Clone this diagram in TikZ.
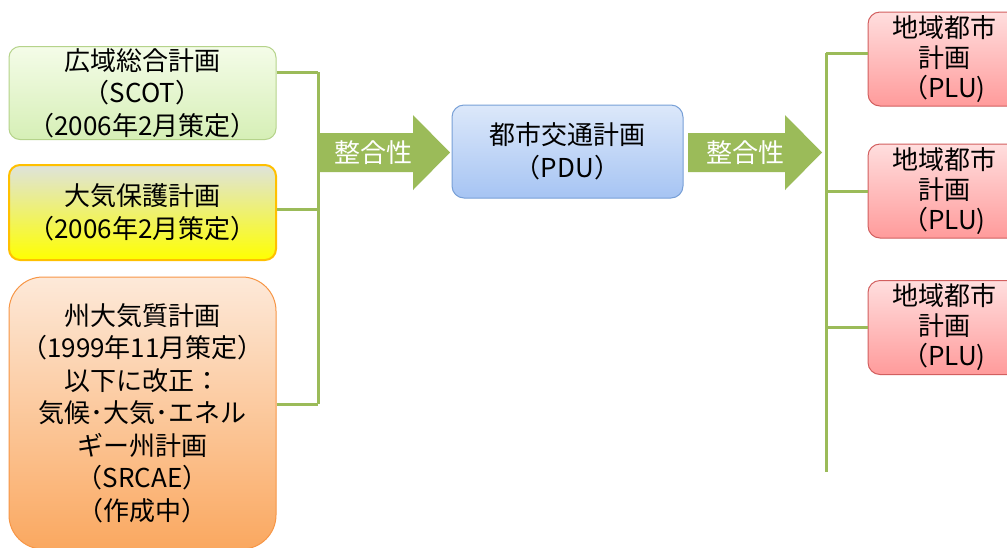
\documentclass[tikz,border=0pt]{standalone}
\usepackage{fontspec}
\setmainfont{Noto Sans CJK JP}
\begin{document}
\begin{tikzpicture}[x=1pt,y=-1pt,
  box/.style={draw, line width=1pt, align=center, inner sep=0pt,
    font=\fontsize{26}{32.5}\selectfont, text=black},
  conn/.style={draw=lineg, line width=3pt},
  bigarrow/.style={fill=arrowg},
  arrowtext/.style={text=white, font=\fontsize{26}{30}\selectfont}
]
\definecolor{lineg}{HTML}{9BBB59}
\definecolor{arrowg}{HTML}{9BBB59}
\clip (0,0) rectangle (1007,547);
\useasboundingbox (0,0) rectangle (1007,547);
\fill[white] (0,0) rectangle (1007,547);

% left boxes
\node[box, rounded corners=11pt, draw={rgb,255:red,181;green,211;blue,138},
  top color={rgb,255:red,244;green,252;blue,232}, bottom color={rgb,255:red,214;green,239;blue,182},
  minimum width=267pt, minimum height=93pt] (A) at (142.5,93)
  {広域総合計画\\（SCOT）\\（2006年2月策定）};
\node[box, rounded corners=11pt, line width=2pt, draw={rgb,255:red,255;green,192;blue,0},
  top color={rgb,255:red,222;green,227;blue,220}, bottom color={rgb,255:red,255;green,255;blue,0},
  minimum width=267pt, minimum height=95pt] (B) at (142.5,212.5)
  {大気保護計画\\（2006年2月策定）};
\node[box, rounded corners=34pt, draw={rgb,255:red,247;green,150;blue,70},
  top color={rgb,255:red,253;green,233;blue,217}, bottom color={rgb,255:red,250;green,168;blue,96},
  minimum width=267pt, minimum height=272pt] (C) at (142.5,413)
  {州大気質計画\\（1999年11月策定）\\以下に改正：\\気候･大気･エネル\\ギー州計画\\（SRCAE）\\（作成中）};

% middle box
\node[box, rounded corners=12pt, draw={rgb,255:red,120;green,160;blue,215},
  top color={rgb,255:red,220;green,232;blue,250}, bottom color={rgb,255:red,166;green,196;blue,243},
  minimum width=231pt, minimum height=93pt] (M) at (567.5,151.5)
  {都市交通計画\\（PDU）};

% right boxes
\foreach \n/\yy in {R1/59, R2/191, R3/327.5}{
  \node[box, rounded corners=12pt, draw={rgb,255:red,210;green,95;blue,95},
    font=\fontsize{26}{30}\selectfont,
    top color={rgb,255:red,255;green,222;blue,222}, bottom color={rgb,255:red,255;green,155;blue,155},
    minimum width=152pt, minimum height=94pt] (\n) at (944,\yy)
    {地域都市\\計画\\（PLU)};
}

% left bus
\coordinate (bA) at (318,72);
\coordinate (bB) at (318,209);
\coordinate (bC) at (318,404);
\draw[conn] (A.east |- bA) -- (bA);
\draw[conn] (B.east |- bB) -- (bB);
\draw[conn] (C.east |- bC) -- (bC);
\draw[conn] (bA) -- (bC);

% arrow 1
\fill[bigarrow] (318,133) -- (413,133) -- (413,115) -- (450,152.5) -- (413,190) -- (413,172) -- (318,172) -- cycle;
\node[arrowtext] (t1) at (373,152.5) {整合性};

% arrow 2
\fill[bigarrow] (688,133) -- (785,133) -- (785,115) -- (822,152.5) -- (785,190) -- (785,172) -- (688,172) -- cycle;
\node[arrowtext] (t2) at (745,152.5) {整合性};

% right bus
\coordinate (r1) at (826,53);
\coordinate (r2) at (826,191);
\coordinate (r3) at (826,327.5);
\coordinate (rend) at (826,472);
\draw[conn] (r1) -- (R1.west |- r1);
\draw[conn] (r2) -- (R2.west |- r2);
\draw[conn] (r3) -- (R3.west |- r3);
\draw[conn] (r1) -- (rend);
\end{tikzpicture}
\end{document}
